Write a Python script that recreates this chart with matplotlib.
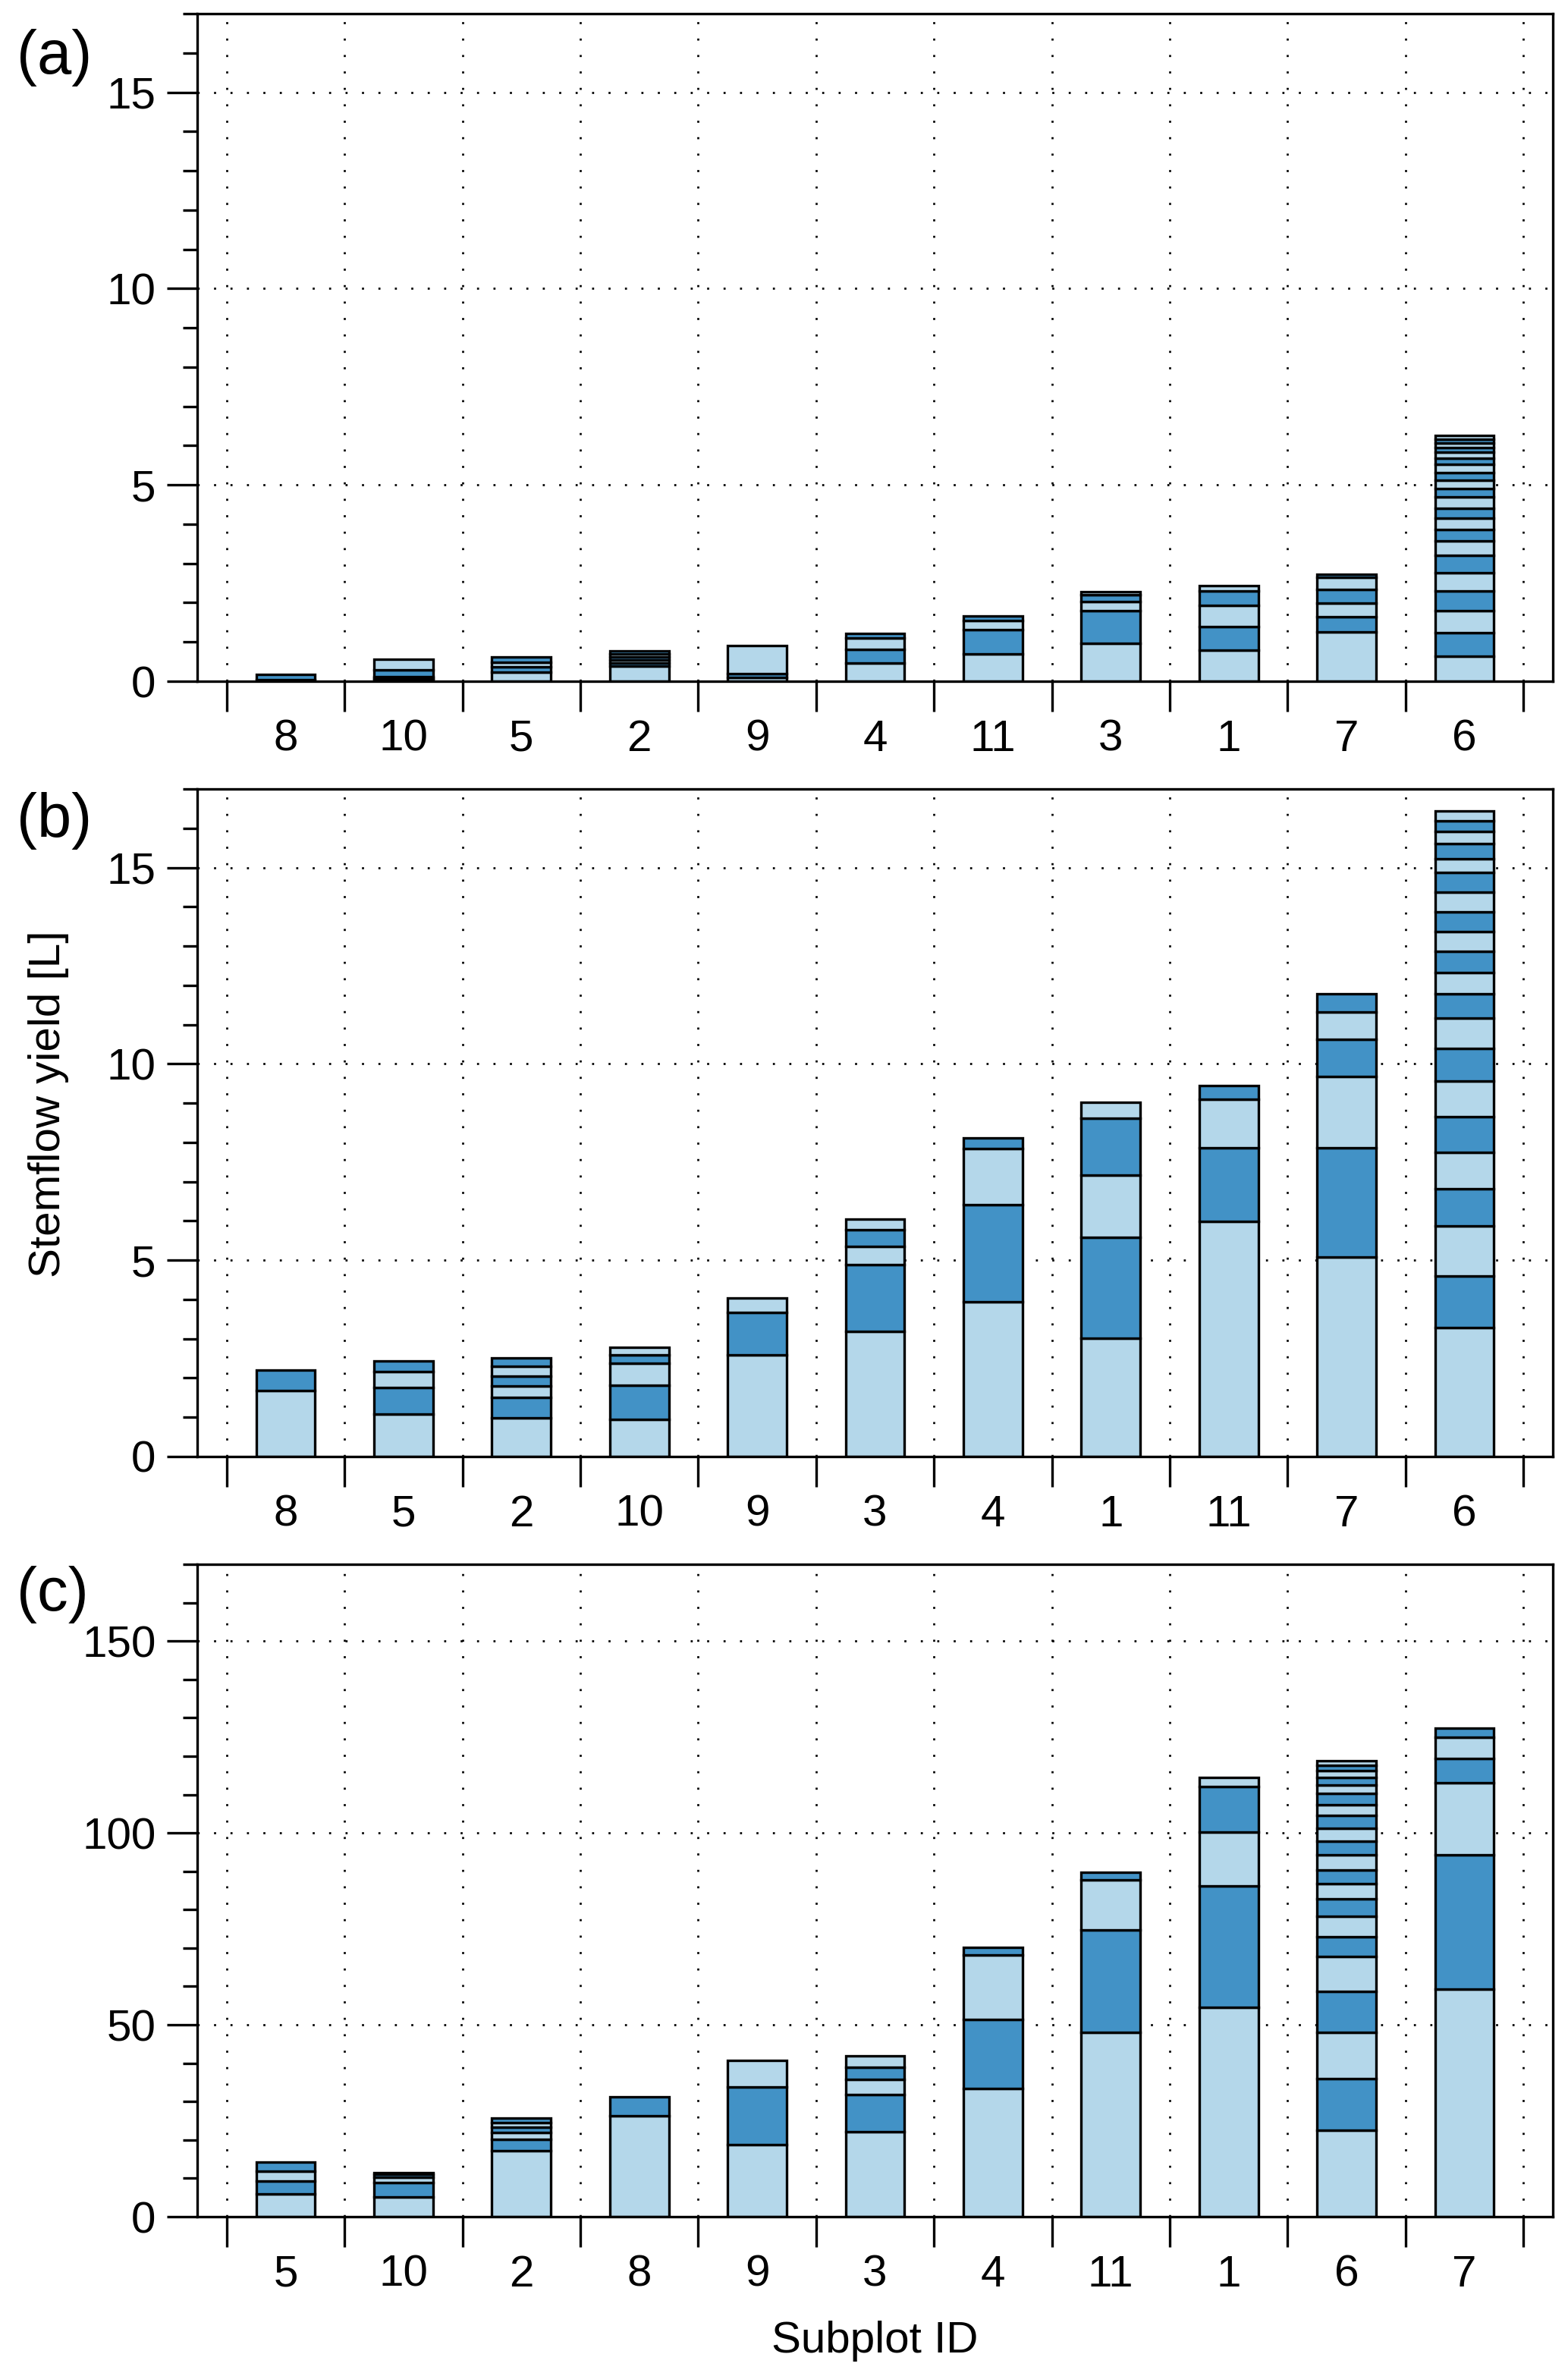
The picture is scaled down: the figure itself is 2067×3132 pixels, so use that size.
import numpy as np
import matplotlib.pyplot as plt
from matplotlib.ticker import MultipleLocator

plt.rcParams['font.family'] = ['Liberation Sans', 'DejaVu Sans']

LIGHT = "#b4d7ea"
DARK = "#4292c6"

# panel (a): subplot order and per-tree stemflow segments [L]
ids_a = [8, 10, 5, 2, 9, 4, 11, 3, 1, 7, 6]
trees_a = [
    [0.03, 0.144],
    [0.04, 0.035, 0.035, 0.18, 0.27],
    [0.238, 0.129, 0.116, 0.128],
    [0.38, 0.083, 0.077, 0.084, 0.065, 0.083],
    [0.097, 0.097, 0.71],
    [0.463, 0.354, 0.29, 0.109],
    [0.701, 0.612, 0.225, 0.116],
    [0.959, 0.836, 0.226, 0.18, 0.077],
    [0.79, 0.60, 0.55, 0.356, 0.13],
    [1.261, 0.376, 0.355, 0.35, 0.31, 0.078],
    [0.647, 0.582, 0.569, 0.498, 0.466, 0.440, 0.369, 0.291, 0.291, 0.258,
     0.279, 0.226, 0.194, 0.207, 0.201, 0.155, 0.161, 0.117, 0.110, 0.103, 0.091],
]

# panel (b)
ids_b = [8, 5, 2, 10, 9, 3, 4, 1, 11, 7, 6]
trees_b = [
    [1.69, 0.52],
    [1.09, 0.66, 0.41, 0.28],
    [0.99, 0.52, 0.29, 0.25, 0.24, 0.23],
    [0.94, 0.88, 0.55, 0.22, 0.20],
    [2.59, 1.08, 0.36],
    [3.18, 1.71, 0.46, 0.42, 0.27],
    [3.94, 2.47, 1.43, 0.28],
    [3.01, 2.58, 1.58, 1.44, 0.42],
    [5.98, 1.88, 1.24, 0.35],
    [5.08, 2.79, 1.80, 0.96, 0.69, 0.46],
    [3.28, 1.31, 1.29, 0.94, 0.92, 0.92, 0.90, 0.84, 0.77, 0.61,
     0.54, 0.54, 0.51, 0.51, 0.50, 0.50, 0.35, 0.37, 0.31, 0.28, 0.25],
]

# panel (c)
ids_c = [5, 10, 2, 8, 9, 3, 4, 11, 1, 6, 7]
trees_c = [
    [5.93, 3.42, 2.51, 2.30],
    [5.07, 3.76, 1.37, 0.8, 0.46],
    [17.26, 2.96, 1.65, 1.52, 1.11, 1.19],
    [26.35, 4.94],
    [18.71, 15.02, 6.92],
    [22.2, 9.55, 4.09, 3.16, 2.83],
    [33.4, 17.9, 16.8, 2.0],
    [48.1, 26.6, 13.1, 2.0],
    [54.6, 31.5, 14.2, 11.7, 2.5],
    [22.44, 13.48, 12.02, 10.76, 9.07, 5.10, 5.33, 4.53, 3.97, 3.73,
     3.86, 3.51, 3.40, 3.29, 2.94, 2.84, 2.26, 1.93, 1.70, 1.47, 1.14],
    [59.27, 35.02, 18.81, 6.23, 5.55, 2.38],
]


def draw_panel(ax, ids, trees, ymax, major, minor):
    x = np.arange(1, len(ids) + 1)
    for xi, segs in zip(x, trees):
        segs = np.asarray(segs)
        bottoms = np.concatenate([[0], np.cumsum(segs)[:-1]])
        colors = [LIGHT if i % 2 == 0 else DARK for i in range(len(segs))]
        ax.bar(np.full(len(segs), xi), segs, bottom=bottoms, width=0.5,
               color=colors, edgecolor="black", linewidth=0.8, zorder=2)

    ax.set_xlim(0.25, len(ids) + 0.75)
    ax.set_ylim(0, ymax)

    ax.set_xticks(np.arange(0.5, len(ids) + 1, 1.0))
    ax.set_xticklabels([])
    ax.set_xticks(x, minor=True)
    ax.set_xticklabels([str(i) for i in ids], minor=True)
    ax.tick_params(axis="x", which="major", direction="out", length=9.5, width=0.8)
    ax.tick_params(axis="x", which="minor", length=0, pad=12, labelsize=14)

    ax.yaxis.set_major_locator(MultipleLocator(major))
    ax.yaxis.set_minor_locator(MultipleLocator(minor))
    ax.tick_params(axis="y", which="major", direction="out", length=9.5, width=0.8,
                   pad=3.6, labelsize=14)
    ax.tick_params(axis="y", which="minor", direction="out", length=4.5, width=0.8)

    ax.set_axisbelow(True)
    ax.grid(which="major", axis="both", color="black", linestyle=(0, (1, 7)),
            linewidth=0.65)
    for sp in ax.spines.values():
        sp.set_linewidth(0.8)


fig = plt.figure(figsize=(2067 / 300, 3132 / 300), dpi=300)
W, H = 2067, 3132
left = 260 / W
width = (2047 - 260) / W

ax_a = fig.add_axes([left, 1 - 898 / H, width, 880 / H])
ax_b = fig.add_axes([left, 1 - 1920 / H, width, 880 / H])
ax_c = fig.add_axes([left, 1 - 2922 / H, width, 860 / H])

draw_panel(ax_a, ids_a, trees_a, 17, 5, 1)
draw_panel(ax_b, ids_b, trees_b, 17, 5, 1)
draw_panel(ax_c, ids_c, trees_c, 170, 50, 10)

fig.text(22 / W, 1 - 76 / H, "(a)", fontsize=19.5, va="center", ha="left")
fig.text(22 / W, 1 - 1082 / H, "(b)", fontsize=19.5, va="center", ha="left")
fig.text(22 / W, 1 - 2102 / H, "(c)", fontsize=19.5, va="center", ha="left")

fig.text(64 / W, 1 - 1455 / H, "Stemflow yield [L]", rotation=90,
         fontsize=14, va="center", ha="center")
fig.text((260 + 2047) / 2 / W, 1 - 3086 / H, "Subplot ID",
         fontsize=14, va="center", ha="center")

fig.savefig("out.png", dpi=300)
